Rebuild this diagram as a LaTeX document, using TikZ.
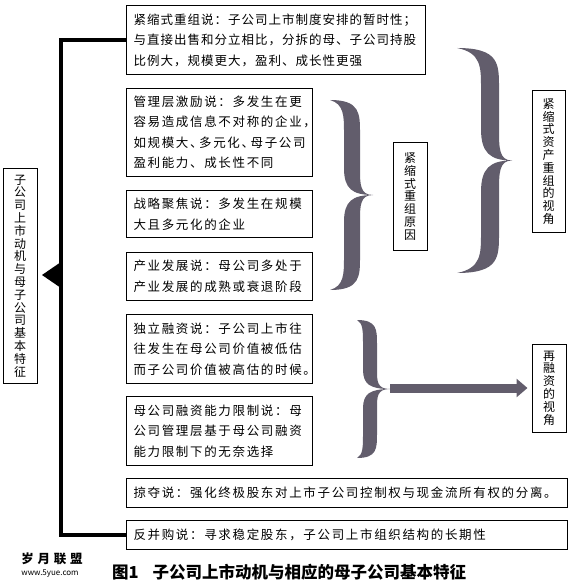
\documentclass[tikz,border=0pt]{standalone}
\usepackage{fontspec}
\setmainfont{Noto Sans CJK SC}
\newfontfamily\cjkA[LetterSpace=13.3]{Noto Sans CJK SC}
\newfontfamily\cjkB[LetterSpace=8]{Noto Sans CJK SC}
\newfontfamily\cjkC[LetterSpace=30]{Noto Sans CJK SC}
\usetikzlibrary{arrows.meta}
\definecolor{bracegray}{RGB}{98,93,108}
\newcommand\mybrace[6]{%
\pgfmathsetmacro\ym{(#2+#3)/2}%
\pgfmathsetmacro\dd{(#3-#2)*0.07}%
\fill[bracegray]
 (#1,#2) .. controls (#4+#6,#2) and (#4+#6,#2+\dd) .. (#4+#6,#2+2.5*\dd)
 -- (#4+#6,\ym-2*\dd) .. controls (#4+#6,\ym-0.8*\dd) and (#4+#6,\ym) .. (#5,\ym)
 .. controls (#4+#6,\ym) and (#4+#6,\ym+0.8*\dd) .. (#4+#6,\ym+2*\dd)
 -- (#4+#6,#3-2.5*\dd) .. controls (#4+#6,#3-\dd) and (#4+#6,#3) .. (#1,#3)
 .. controls (#4-#6,#3-0.3*\dd) and (#4-#6,#3-1.2*\dd) .. (#4-#6,#3-2.5*\dd)
 -- (#4-#6,\ym+2*\dd) .. controls (#4-#6,\ym+0.5*\dd) and (#4,\ym) .. (#5,\ym)
 .. controls (#4,\ym) and (#4-#6,\ym-0.5*\dd) .. (#4-#6,\ym-2*\dd)
 -- (#4-#6,#2+2.5*\dd) .. controls (#4-#6,#2+1.2*\dd) and (#4-#6,#2+0.3*\dd) .. (#1,#2) -- cycle;}
\tikzset{
 box/.style={draw,line width=1pt,anchor=north west,align=left,inner xsep=7pt,inner ysep=0pt,
   font=\cjkA\fontsize{12.5}{20.5}\selectfont},
 vbox/.style={draw,line width=1pt,align=center,inner sep=0pt,
   font=\fontsize{12}{12.8}\selectfont},
 spine/.style={line width=3.8pt},
 bigarrow/.style={line width=9pt,bracegray,-{Triangle[length=11pt,width=18pt]},shorten >=4pt}
}
\begin{document}
\begin{tikzpicture}[x=1pt,y=-1pt]
\useasboundingbox (0,0) rectangle (570,585);
% boxes
\node[box,text width=285pt,minimum height=69pt,font=\cjkB\fontsize{12.5}{20.5}\selectfont] (b1) at (126,5)
 {紧缩式重组说：子公司上市制度安排的暂时性；\\与直接出售和分立相比，分拆的母、子公司持股\\比例大，规模更大，盈利、成长性更强};
\node[box,text width=172pt,minimum height=88pt] (b2) at (126,88)
 {管理层激励说：多发生在更\\容易造成信息不对称的企业，\\如规模大、\kern-3.5pt多元化、\kern-3.5pt母子公司\\盈利能力、成长性不同};
\node[box,text width=172pt,minimum height=47pt] (b3) at (126,190)
 {战略聚焦说：多发生在规模\\大且多元化的企业};
\node[box,text width=172pt,minimum height=48pt] (b4) at (126,252)
 {产业发展说：母公司多处于\\产业发展的成熟或衰退阶段};
\node[box,text width=172pt,minimum height=69pt] (b5) at (126,314)
 {独立融资说：子公司上市往\\往发生在母公司价值被低估\\而子公司价值被高估的时候。};
\node[box,text width=172pt,minimum height=69pt] (b6) at (126,396)
 {母公司融资能力限制说：母\\公司管理层基于母公司融资\\能力限制下的无奈选择};
\node[box,text width=427pt,minimum height=29pt] (b7) at (126,478)
 {掠夺说：强化终极股东对上市子公司控制权与现金流所有权的分离。};
\node[box,text width=427pt,minimum height=29pt] (b8) at (126,520)
 {反并购说：寻求稳定股东，子公司上市组织结构的长期性};
% vertical boxes
\node[vbox,minimum width=34pt,minimum height=214pt] (left) at (20,276)
 {子\\公\\司\\上\\市\\动\\机\\与\\母\\子\\公\\司\\基\\本\\特\\征};
\node[vbox,minimum width=34pt,minimum height=107pt] (mid) at (410,196.5)
 {紧\\缩\\式\\重\\组\\原\\因};
\node[vbox,minimum width=33pt,minimum height=141pt] (rt) at (548.5,161.5)
 {紧\\缩\\式\\资\\产\\重\\组\\的\\视\\角};
\node[vbox,minimum width=34pt,minimum height=88pt] (rz) at (549,388)
 {再\\融\\资\\的\\视\\角};
% spine
\draw[spine] (b1.west) -- ++(-65,0) |- (b8.west);
\fill (61,262) -- ++(0,26) -- (42,275) -- cycle;
% braces
\mybrace{330}{100}{290}{352}{373}{8}
\mybrace{457}{48}{273}{490}{512}{9}
\mybrace{357}{320}{458}{370}{390}{7}
\coordinate (br3tip) at (390,388);
\draw[bigarrow] (br3tip) -- (rz.west);
% caption
\node[anchor=west,inner sep=0pt,font=\bfseries\fontsize{16.5}{16.5}\selectfont] (cap) at (112,572)
 {图1\hspace{14pt}子公司上市动机与相应的母子公司基本特征};
\node[font=\cjkC\bfseries\fontsize{12.5}{12.5}\selectfont,inner sep=0pt] (logo) at (52,559) {岁月联盟};
\node[font=\fontsize{8}{8}\selectfont,inner sep=0pt] (url) at (50,574) {www.5yue.com};
\end{tikzpicture}
\end{document}
